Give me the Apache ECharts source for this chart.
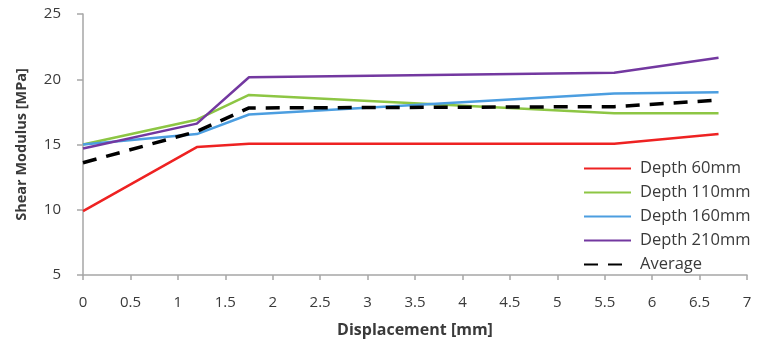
<!DOCTYPE html>
<html>
<head>
<meta charset="utf-8">
<script src="https://cdn.jsdelivr.net/npm/echarts@6/dist/echarts.min.js"></script>
<style>
  html, body { margin: 0; padding: 0; background: #fff; }
  #chart { width: 760px; height: 346px; }
</style>
</head>
<body>
<div id="chart"></div>
<script>
// Displacement steps (mm) at which the shear modulus was measured
const displacement = [0, 1.2, 1.75, 5.6, 6.7];

// Shear modulus (MPa) per depth
const depth60  = [9.9, 14.8, 15.05, 15.05, 15.8];
const depth110 = [15.0, 16.9, 18.8, 17.4, 17.4];
const depth160 = [15.0, 15.8, 17.3, 18.9, 19.0];
const depth210 = [14.7, 16.6, 20.15, 20.5, 21.65];
const average  = [13.6, 16.0, 17.8, 17.9, 18.4];

const xTicks = { min: 0, max: 7, step: 0.5 };
const yTicks = { min: 5, max: 25, step: 5 };

const seriesDefs = [
  { name: 'Depth 60mm',  values: depth60,  color: '#ee2222', dash: 'solid' },
  { name: 'Depth 110mm', values: depth110, color: '#8dc644', dash: 'solid' },
  { name: 'Depth 160mm', values: depth160, color: '#4c9ee0', dash: 'solid' },
  { name: 'Depth 210mm', values: depth210, color: '#7338a0', dash: 'solid' },
  { name: 'Average',     values: average,  color: '#000000', dash: [14, 10] }
];

const font = 'Open Sans, Noto Sans, sans-serif';
const textColor = '#3a3a3a';
const axisGrey = '#a6a6a6';

const chart = echarts.init(document.getElementById('chart'), null, { renderer: 'canvas' });

chart.setOption({
  animation: false,
  backgroundColor: '#ffffff',
  grid: { left: 83, right: 13, top: 14, bottom: 71, containLabel: false },
  xAxis: {
    type: 'value',
    min: xTicks.min, max: xTicks.max, interval: xTicks.step,
    name: 'Displacement [mm]',
    nameLocation: 'middle',
    nameGap: 47,
    nameTextStyle: { fontFamily: font, fontSize: 16, fontWeight: 'bold', color: textColor },
    axisLine: { lineStyle: { color: axisGrey, width: 1.5 } },
    axisTick: { show: true, length: 5, lineStyle: { color: axisGrey, width: 1.5 } },
    axisLabel: { fontFamily: font, fontSize: 15, color: textColor, margin: 20 },
    splitLine: { show: false }
  },
  yAxis: {
    type: 'value',
    min: yTicks.min, max: yTicks.max, interval: yTicks.step,
    name: 'Shear Modulus [MPa]',
    nameLocation: 'middle',
    nameGap: 54,
    nameTextStyle: { fontFamily: font, fontSize: 14.5, fontWeight: 'bold', color: textColor },
    axisLine: { show: true, lineStyle: { color: axisGrey, width: 1.5 } },
    axisTick: { show: true, length: 6, lineStyle: { color: axisGrey, width: 1.5 } },
    axisLabel: { fontFamily: font, fontSize: 15, color: textColor, margin: 22 },
    splitLine: { show: false }
  },
  legend: {
    orient: 'vertical',
    left: 578,
    top: 155,
    itemWidth: 47,
    itemHeight: 14,
    itemGap: 7,
    itemStyle: { opacity: 0 },
    textStyle: { fontFamily: font, fontSize: 16.5, color: textColor, padding: [0, 0, 0, 4] },
    data: seriesDefs.map(s => s.name)
  },
  series: seriesDefs.map(s => ({
    name: s.name,
    type: 'line',
    data: displacement.map((x, i) => [x, s.values[i]]),
    symbol: 'none',
    showSymbol: false,
    lineStyle: { color: s.color, width: s.name === 'Average' ? 3.5 : 2.5, type: s.dash },
    itemStyle: { color: s.color }
  }))
});
</script>
</body>
</html>
